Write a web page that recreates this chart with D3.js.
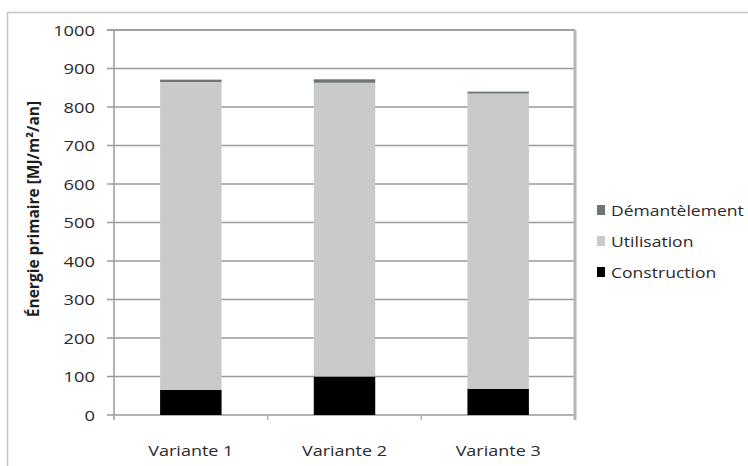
<!DOCTYPE html>
<html>
<head>
<meta charset="utf-8">
<script src="https://cdn.jsdelivr.net/npm/d3@7"></script>
<style>
  body { margin: 0; background: #fff; }
  text { font-family: "Open Sans", sans-serif; fill: #2a2a2a; }
</style>
</head>
<body>
<svg id="chart" width="748" height="466"></svg>
<script>
// data
var categories = ["Variante 1", "Variante 2", "Variante 3"];
var construction = [65, 100, 68];
var utilisation = [800, 763, 767];
var demantelement = [6, 9, 5];
var seriesNames = ["Construction", "Utilisation", "Démantèlement"];
var seriesColors = ["#000000", "#c9cacb", "#6e7576"];
var yTicks = [0, 100, 200, 300, 400, 500, 600, 700, 800, 900, 1000];

var svg = d3.select("#chart");

// outer frame
svg.append("rect")
    .attr("x", 7.5).attr("y", 12.5)
    .attr("width", 800).attr("height", 500)
    .attr("fill", "none").attr("stroke", "#c4c4c4").attr("stroke-width", 1.5);

var x = d3.scaleBand().domain(categories).range([114, 575]).paddingInner(0.6).paddingOuter(0.3);
var xb = d3.scaleBand().domain(categories).range([114, 575]);
var y = d3.scaleLinear().domain([0, 1000]).range([415, 30]);

var rows = categories.map((c, i) => ({
    cat: c,
    Construction: construction[i],
    Utilisation: utilisation[i],
    "Démantèlement": demantelement[i]
}));
var stacked = d3.stack().keys(seriesNames)(rows);

// gridlines
svg.append("g").selectAll("line")
    .data(yTicks)
    .join("line")
    .attr("x1", 107).attr("x2", 575)
    .attr("y1", d => y(d)).attr("y2", d => y(d))
    .attr("stroke", d => d === 1000 ? "#7f8282" : "#9a9a9a")
    .attr("stroke-width", 1.5);

// right border of plot
svg.append("line")
    .attr("x1", 575).attr("x2", 575).attr("y1", y(1000)).attr("y2", y(0) + 5)
    .attr("stroke", "#b5b5b5").attr("stroke-width", 3);

// bars
svg.append("g").selectAll("g")
    .data(stacked)
    .join("g")
    .attr("fill", (d, i) => seriesColors[i])
    .selectAll("rect")
    .data(d => d)
    .join("rect")
    .attr("x", d => x(d.data.cat))
    .attr("width", x.bandwidth())
    .attr("y", d => y(d[1]))
    .attr("height", d => y(d[0]) - y(d[1]));

// left axis line and x axis ticks
svg.append("line")
    .attr("x1", 114).attr("x2", 114).attr("y1", y(1000)).attr("y2", y(0) + 5)
    .attr("stroke", "#9a9a9a").attr("stroke-width", 1.5);
svg.append("g").selectAll("line")
    .data(categories.concat(["end"]))
    .join("line")
    .attr("x1", (d, i) => i < 3 ? xb(d) : 575)
    .attr("x2", (d, i) => i < 3 ? xb(d) : 575)
    .attr("y1", y(0)).attr("y2", y(0) + 5)
    .attr("stroke", "#b0b0b0").attr("stroke-width", 1.5);

// y tick labels
svg.append("g").selectAll("text")
    .data(yTicks)
    .join("text")
    .attr("transform", d => `translate(95,${y(d) + 5.5}) scale(1.22,1)`)
    .attr("text-anchor", "end")
    .style("font-size", "15px")
    .text(d => d);

// x labels
svg.append("g").selectAll("text")
    .data(categories)
    .join("text")
    .attr("transform", d => `translate(${x(d) + x.bandwidth() / 2},456) scale(1.2,1)`)
    .attr("text-anchor", "middle")
    .style("font-size", "15px")
    .text(d => d);

// y axis title
svg.append("text")
    .attr("transform", `translate(39,209) rotate(-90)`)
    .attr("text-anchor", "middle")
    .style("font-size", "15.5px")
    .style("font-weight", "bold")
    .style("fill", "#1e1e1e")
    .text("Énergie primaire [MJ/m²/an]");

// legend (reverse order, top = Démantèlement)
var legend = svg.append("g").selectAll("g")
    .data(seriesNames.slice().reverse())
    .join("g")
    .attr("transform", (d, i) => `translate(597,${210 + i * 31})`);
legend.append("rect")
    .attr("x", 0).attr("y", -5).attr("width", 8).attr("height", 10)
    .attr("fill", d => seriesColors[seriesNames.indexOf(d)]);
legend.append("text")
    .attr("transform", `translate(14,6) scale(1.17,1)`)
    .style("font-size", "15px")
    .text(d => d);
</script>
</body>
</html>
